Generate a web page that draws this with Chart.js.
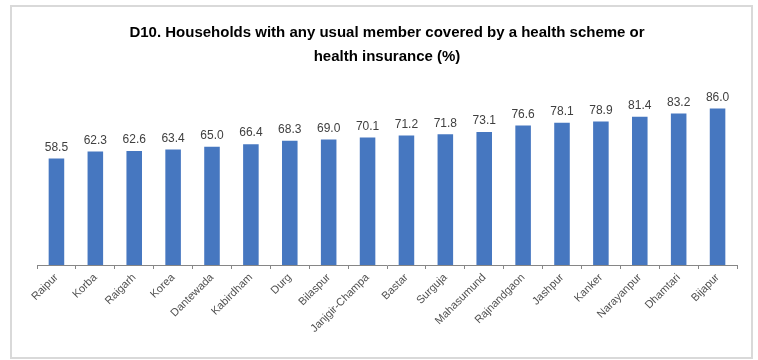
<!DOCTYPE html>
<html>
<head>
<meta charset="utf-8">
<script src="https://cdn.jsdelivr.net/npm/chart.js@4.4.1/dist/chart.umd.min.js"></script>
<style>
  html, body { margin: 0; padding: 0; background: #fff; }
  #wrap { width: 758px; height: 360px; position: relative; }
</style>
</head>
<body>
<div id="wrap"><canvas id="coverageChart"></canvas></div>
<script>
// districts, sorted by coverage
const districts = ['Raipur', 'Korba', 'Raigarh', 'Korea', 'Dantewada', 'Kabirdham', 'Durg', 'Bilaspur',
  'Janjgir-Champa', 'Bastar', 'Surguja', 'Mahasumund', 'Rajnandgaon', 'Jashpur', 'Kanker',
  'Narayanpur', 'Dhamtari', 'Bijapur'];
const coverage = [58.5, 62.3, 62.6, 63.4, 65.0, 66.4, 68.3, 69.0, 70.1, 71.2, 71.8, 73.1, 76.6, 78.1, 78.9,
  81.4, 83.2, 86.0];
const titleLines = ['D10. Households with any usual member covered by a health scheme or', 'health insurance (%)'];

const fontFamily = '"Liberation Sans", Arial, sans-serif';

// light frame round the whole chart
const framePlugin = {
  id: 'frame',
  beforeDraw(chart) {
    const ctx = chart.ctx;
    ctx.save();
    ctx.fillStyle = '#fff';
    ctx.fillRect(0, 0, chart.width, chart.height);
    ctx.strokeStyle = '#d9d9d9';
    ctx.lineWidth = 2;
    ctx.strokeRect(11, 6, 741, 352);
    ctx.restore();
  }
};

// value written above every bar
const valueLabels = {
  id: 'valueLabels',
  afterDatasetsDraw(chart) {
    const ctx = chart.ctx;
    const meta = chart.getDatasetMeta(0);
    ctx.save();
    ctx.font = '12px ' + fontFamily;
    ctx.fillStyle = '#404040';
    ctx.textAlign = 'center';
    ctx.textBaseline = 'bottom';
    meta.data.forEach((bar, i) => {
      ctx.fillText(coverage[i].toFixed(1), bar.x, bar.y - 5);
    });
    ctx.restore();
  }
};

const ctx = document.getElementById('coverageChart').getContext('2d');
new Chart(ctx, {
  type: 'bar',
  data: {
    labels: districts,
    datasets: [{
      data: coverage,
      backgroundColor: '#4677c0',
      categoryPercentage: 1.0,
      barPercentage: 0.4
    }]
  },
  options: {
    responsive: true,
    maintainAspectRatio: false,
    animation: false,
    layout: { padding: { top: 10, left: 37, right: 21, bottom: 0 } },
    plugins: {
      legend: { display: false },
      tooltip: { enabled: false },
      title: {
        display: true,
        text: titleLines,
        color: '#000',
        font: { family: fontFamily, size: 15, weight: 'bold', lineHeight: 1.6 },
        padding: { top: 11, bottom: 14 }
      }
    },
    scales: {
      x: {
        grid: { display: true, drawOnChartArea: false, drawTicks: true, tickLength: 4, color: '#868686' },
        border: { display: true, color: '#868686' },
        ticks: {
          color: '#505050',
          font: { family: fontFamily, size: 11 },
          minRotation: 45,
          maxRotation: 45,
          autoSkip: false,
          padding: 2
        },
        afterFit(scale) { scale.height = 95; }
      },
      y: {
        display: false,
        min: 0,
        max: 100
      }
    }
  },
  plugins: [framePlugin, valueLabels]
});
</script>
</body>
</html>
